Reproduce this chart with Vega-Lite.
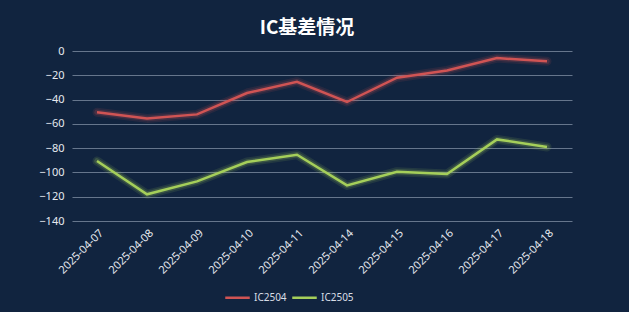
{
  "$schema": "https://vega.github.io/schema/vega-lite/v6.json",
  "autosize": {"type": "none"},
  "width": 500,
  "height": 170,
  "padding": {"left": 72, "top": 51, "right": 57, "bottom": 91},
  "background": "#11243f",
  "title": {
    "text": "IC基差情况",
    "font": "Noto Sans CJK SC",
    "fontSize": 19,
    "fontWeight": "bold",
    "color": "#ffffff",
    "anchor": "middle",
    "dx": -15,
    "offset": 7
  },
  "config": {
    "view": {"stroke": null},
    "font": "Noto Sans"
  },
  "data": {
    "values": [
      {"date": "2025-04-07", "series": "IC2504", "value": -50.5},
      {"date": "2025-04-08", "series": "IC2504", "value": -55.5},
      {"date": "2025-04-09", "series": "IC2504", "value": -52.2},
      {"date": "2025-04-10", "series": "IC2504", "value": -34.6},
      {"date": "2025-04-11", "series": "IC2504", "value": -25.3},
      {"date": "2025-04-14", "series": "IC2504", "value": -42},
      {"date": "2025-04-15", "series": "IC2504", "value": -22},
      {"date": "2025-04-16", "series": "IC2504", "value": -16},
      {"date": "2025-04-17", "series": "IC2504", "value": -5.8},
      {"date": "2025-04-18", "series": "IC2504", "value": -8.5},
      {"date": "2025-04-07", "series": "IC2505", "value": -90.6},
      {"date": "2025-04-08", "series": "IC2505", "value": -118},
      {"date": "2025-04-09", "series": "IC2505", "value": -107.4},
      {"date": "2025-04-10", "series": "IC2505", "value": -91.4},
      {"date": "2025-04-11", "series": "IC2505", "value": -85.4},
      {"date": "2025-04-14", "series": "IC2505", "value": -110.7},
      {"date": "2025-04-15", "series": "IC2505", "value": -99.4},
      {"date": "2025-04-16", "series": "IC2505", "value": -101.3},
      {"date": "2025-04-17", "series": "IC2505", "value": -72.8},
      {"date": "2025-04-18", "series": "IC2505", "value": -79}
    ]
  },
  "encoding": {
    "x": {
      "field": "date",
      "type": "ordinal",
      "scale": {"type": "point", "padding": 0.5},
      "axis": {
        "title": null,
        "labelAngle": -45,
        "labelColor": "#e6e9ef",
        "labelFontSize": 11,
        "labelFont": "Noto Sans",
        "domain": false,
        "ticks": false,
        "grid": false,
        "labelPadding": 6
      }
    },
    "y": {
      "field": "value",
      "type": "quantitative",
      "scale": {"domain": [-140, 0], "nice": false},
      "axis": {
        "title": null,
        "values": [0, -20, -40, -60, -80, -100, -120, -140],
        "labelColor": "#e6e9ef",
        "labelFontSize": 11,
        "labelFont": "Noto Sans",
        "domain": false,
        "ticks": false,
        "gridColor": "#66768c",
        "gridWidth": 1,
        "labelPadding": 8
      }
    },
    "color": {
      "field": "series",
      "type": "nominal",
      "scale": {"domain": ["IC2504", "IC2505"], "range": ["#d05454", "#a5cf5a"]},
      "legend": {
        "title": null,
        "orient": "none",
        "direction": "horizontal",
        "legendX": 152,
        "legendY": 233,
        "symbolType": "stroke",
        "symbolSize": 600,
        "symbolStrokeWidth": 2.5,
        "symbolOpacity": 1,
        "labelColor": "#d8dde6",
        "labelFontSize": 10,
        "labelFont": "Noto Sans",
        "labelOffset": 3,
        "columnPadding": 0
      }
    }
  },
  "layer": [
    {"mark": {"type": "line", "strokeWidth": 9, "opacity": 0.12, "strokeJoin": "round", "strokeCap": "round"}},
    {"mark": {"type": "line", "strokeWidth": 5.5, "opacity": 0.2, "strokeJoin": "round", "strokeCap": "round"}},
    {"mark": {"type": "line", "strokeWidth": 2.5}}
  ]
}
